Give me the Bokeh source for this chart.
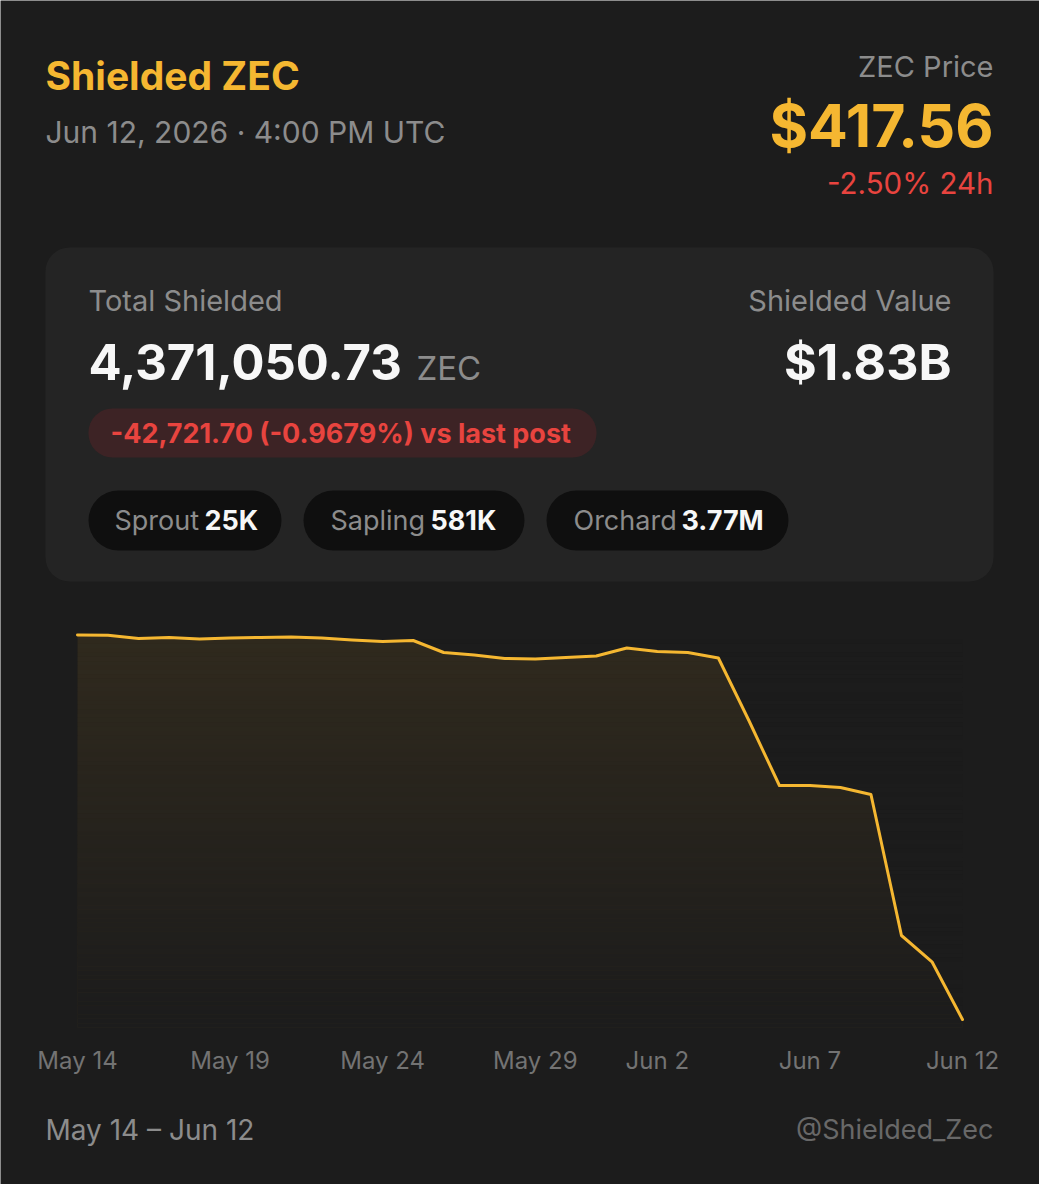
from bokeh.plotting import figure
from bokeh.models import Range1d
from bokeh.core.properties import value
from bokeh.embed import file_html
from bokeh.resources import INLINE
import numpy as np

# ---------------- data ----------------
title = "Shielded ZEC"
timestamp = "Jun 12, 2026 · 4:00 PM UTC"
price_label = "ZEC Price"
price_text = "$417.56"
price_change = "-2.50% 24h"
total_label = "Total Shielded"
total_text = "4,371,050.73"
unit_text = "ZEC"
value_label = "Shielded Value"
value_text = "$1.83B"
delta_text = "-42,721.70 (-0.9679%) vs last post"
pool_names = ["Sprout", "Sapling", "Orchard"]
pool_values = ["25K", "581K", "3.77M"]
range_text = "May 14 – Jun 12"
handle_text = "@Shielded_Zec"

dates = ["May 14", "May 15", "May 16", "May 17", "May 18", "May 19", "May 20",
         "May 21", "May 22", "May 23", "May 24", "May 25", "May 26", "May 27",
         "May 28", "May 29", "May 30", "May 31", "Jun 1", "Jun 2", "Jun 3",
         "Jun 4", "Jun 5", "Jun 6", "Jun 7", "Jun 8", "Jun 9", "Jun 10",
         "Jun 11", "Jun 12"]
shielded = [4655580, 4655430, 4652990, 4653730, 4652620, 4653360, 4653730,
            4654100, 4653360, 4651880, 4650770, 4651510, 4642630, 4640780,
            4638190, 4637820, 4638930, 4640040, 4645960, 4643370, 4642630,
            4638560, 4592310, 4544210, 4544210, 4542730, 4537550, 4433210,
            4413772.43, 4371050.73]
tick_labels = ["May 14", "May 19", "May 24", "May 29", "Jun 2", "Jun 7", "Jun 12"]

# ---------------- style / layout ----------------
BG = "#1c1c1c"
CARD = "#242424"
PILL = "#0f0f0f"
RED_PILL = "#3d2325"
GOLD = "#f5b731"
RED = "#e8443f"
WHITE = "#f7f7f7"
GRAY = "#8c8c8c"
TICK_GRAY = "#737373"
HANDLE_GRAY = "#686868"
FONT = "Inter"
W, H = 1039, 1184
CH_LEFT, CH_RIGHT = 77, 962    # chart horizontal extent (px)
CH_TOP, CH_BOT = 634.5, 1019   # pixel rows of the series max / min
FILL_BOT = 1027                # where the area fade ends

p = figure(width=W, height=H, x_range=Range1d(0, W), y_range=Range1d(H, 0),
           output_backend="svg", toolbar_location=None, min_border=0,
           x_axis_location=None, y_axis_location=None,
           background_fill_color=BG, border_fill_color=BG,
           outline_line_color=None)
p.grid.visible = False


def txt(x, y, s, size, color, bold=False, align="left"):
    p.text(x=[x], y=[y], text=[s], text_font=value(FONT),
           text_font_size=value(f"{size}px"),
           text_font_style="bold" if bold else "normal",
           text_color=color, text_align=align, text_baseline="middle")


# ---------------- header ----------------
txt(45, 74.8, title, 39, GOLD, bold=True)
txt(45, 131.2, timestamp, 30, GRAY)
txt(993, 66.2, price_label, 29, GRAY, align="right")
txt(993, 124.5, price_text, 59, GOLD, bold=True, align="right")
txt(993, 182.9, price_change, 29.5, RED, align="right")

p.quad(left=[45], right=[993], top=[247], bottom=[581], fill_color=CARD,
       line_color=None, border_radius=24)
txt(88, 299.5, total_label, 29, GRAY)
txt(88, 361.2, total_text, 49, WHITE, bold=True)
txt(416, 367, unit_text, 33, GRAY)
txt(951, 300.3, value_label, 29, GRAY, align="right")
txt(951, 361.2, value_text, 50, WHITE, bold=True, align="right")

p.quad(left=[88], right=[596], top=[408], bottom=[457], fill_color=RED_PILL,
       line_color=None, border_radius=24)
txt(110, 432.8, delta_text, 27, RED, bold=True)

pill_left = [88, 303, 546]
pill_right = [281, 524, 788]
name_x = [114, 330, 573]
val_x = [204, 430, 681]
p.quad(left=pill_left, right=pill_right, top=[490] * 3, bottom=[550] * 3,
       fill_color=PILL, line_color=None, border_radius=30)
for i in range(3):
    txt(name_x[i], 519.8, pool_names[i], 27, GRAY)
    txt(val_x[i], 519.8, pool_values[i], 27, WHITE, bold=True)

# ---------------- chart (own scales mapped into the lower part) ----------------
x = np.arange(len(dates))
vals = np.array(shielded, dtype=float)
n_days = len(dates) - 1
vmin, vmax = vals.min(), vals.max()

days_per_px = n_days / (CH_RIGHT - CH_LEFT)
p.extra_x_ranges = {"time": Range1d(-CH_LEFT * days_per_px,
                                    n_days + (W - CH_RIGHT) * days_per_px)}
zec_per_px = (vmax - vmin) / (CH_BOT - CH_TOP)
v_start = vmin - (H - CH_BOT) * zec_per_px
v_end = vmax + CH_TOP * zec_per_px
v_fill = vmin - (FILL_BOT - CH_BOT) * zec_per_px
p.extra_y_ranges = {"val": Range1d(v_start, v_end)}

p.varea(x=x, y1=vals, y2=v_fill, fill_color=GOLD, fill_alpha=0.095,
        x_range_name="time", y_range_name="val")
# vertical fade of the area fill: background-coloured bands with rising opacity
nb = 90
edges = np.linspace(vmax, v_fill, nb + 1)
alphas = np.linspace(0.0, 1.0, nb)
p.quad(left=0, right=n_days, top=edges[:-1], bottom=edges[1:],
       fill_color=BG, fill_alpha=alphas, line_color=None,
       x_range_name="time", y_range_name="val")
p.line(x=x, y=vals, line_color=GOLD, line_width=3, line_join="round",
       line_cap="round", x_range_name="time", y_range_name="val")

# date tick labels placed through the time scale
tick_pos = [dates.index(t) for t in tick_labels]
p.text(x=tick_pos, y=[1060.3] * len(tick_pos), text=tick_labels,
       x_range_name="time", text_font=value(FONT), text_font_size=value("24px"),
       text_color=TICK_GRAY, text_align="center", text_baseline="middle")

# ---------------- footer ----------------
txt(45, 1129.3, range_text, 28, GRAY)
txt(993, 1129.3, handle_text, 27, HANDLE_GRAY, align="right")

open("out.html", "w").write(file_html(p, INLINE))
